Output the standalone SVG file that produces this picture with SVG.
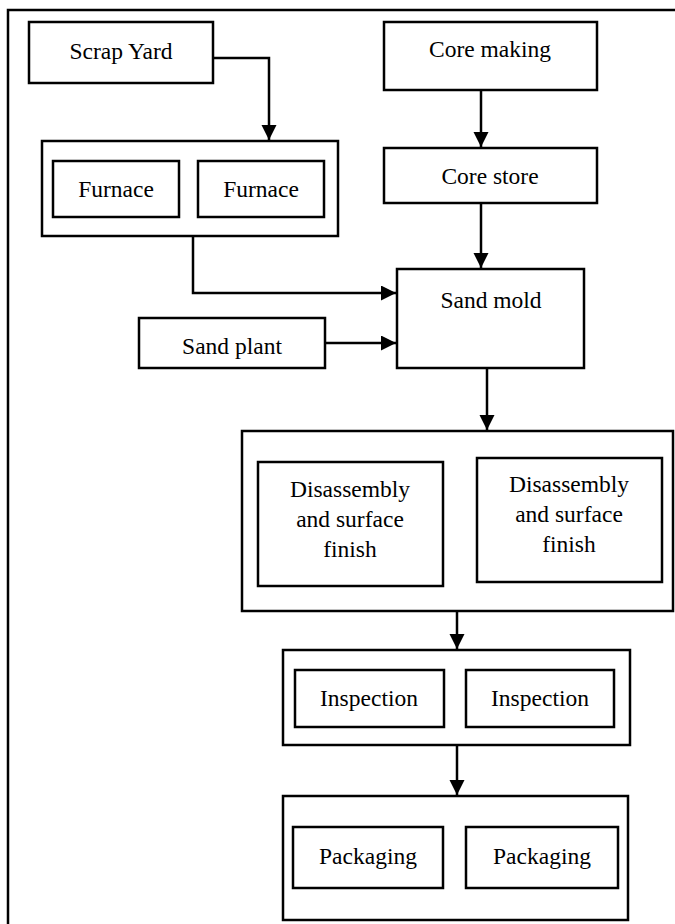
<svg xmlns="http://www.w3.org/2000/svg" width="675" height="924" viewBox="0 0 675 924">
<style>
rect{fill:#fff;stroke:#000;stroke-width:2.5}
text{font-family:"Liberation Serif","Times New Roman",serif;font-size:23.5px;fill:#000;text-anchor:middle}
.c{fill:none;stroke:#000;stroke-width:2.5}
</style>
<defs>
<marker id="ah" markerUnits="userSpaceOnUse" markerWidth="17" markerHeight="16" refX="15" refY="7.5" orient="auto">
<path d="M0,0 L15,7.5 L0,15 Z" fill="#000"/>
</marker>
</defs>
<g id="frame"><path d="M8,924 V10 H675" fill="none" stroke="#000" stroke-width="2.5"/></g>
<g id="scrap-yard"><rect x="29" y="22" width="184" height="61"/><text x="121" y="59">Scrap Yard</text></g>
<g id="furnace-group"><rect x="42" y="141" width="296" height="95"/>
<g id="furnace-1"><rect x="53" y="161" width="126" height="56"/><text x="116" y="197">Furnace</text></g>
<g id="furnace-2"><rect x="198" y="161" width="126" height="56"/><text x="261" y="197">Furnace</text></g></g>
<g id="core-making"><rect x="384" y="22" width="213" height="68"/><text x="490" y="57">Core making</text></g>
<g id="core-store"><rect x="384" y="148" width="213" height="55"/><text x="490" y="184">Core store</text></g>
<g id="sand-plant"><rect x="139" y="318" width="186" height="50"/><text x="232" y="354">Sand plant</text></g>
<g id="sand-mold"><rect x="397" y="269" width="187" height="99"/><text x="491" y="308">Sand mold</text></g>
<g id="disassembly-group"><rect x="242" y="431" width="431" height="180"/>
<g id="disassembly-1"><rect x="258" y="462" width="185" height="124"/><text x="350" y="497">Disassembly</text><text x="350" y="527">and surface</text><text x="350" y="557">finish</text></g>
<g id="disassembly-2"><rect x="477" y="458" width="185" height="124"/><text x="569" y="492">Disassembly</text><text x="569" y="522">and surface</text><text x="569" y="552">finish</text></g></g>
<g id="inspection-group"><rect x="283" y="650" width="347" height="95"/>
<g id="inspection-1"><rect x="295" y="670" width="149" height="57"/><text x="369" y="706">Inspection</text></g>
<g id="inspection-2"><rect x="466" y="670" width="148" height="57"/><text x="540" y="706">Inspection</text></g></g>
<g id="packaging-group"><rect x="283" y="796" width="345" height="124"/>
<g id="packaging-1"><rect x="293" y="827" width="150" height="61"/><text x="368" y="864">Packaging</text></g>
<g id="packaging-2"><rect x="466" y="827" width="152" height="61"/><text x="542" y="864">Packaging</text></g></g>
<g id="connectors">
<path class="c" d="M213,58 H269 V140" marker-end="url(#ah)"/>
<path class="c" d="M481,90 V147" marker-end="url(#ah)"/>
<path class="c" d="M481,203 V268" marker-end="url(#ah)"/>
<path class="c" d="M193,236 V293 H396" marker-end="url(#ah)"/>
<path class="c" d="M325,343 H396" marker-end="url(#ah)"/>
<path class="c" d="M487,368 V430" marker-end="url(#ah)"/>
<path class="c" d="M457,611 V649" marker-end="url(#ah)"/>
<path class="c" d="M457,745 V795" marker-end="url(#ah)"/>
</g>
</svg>
